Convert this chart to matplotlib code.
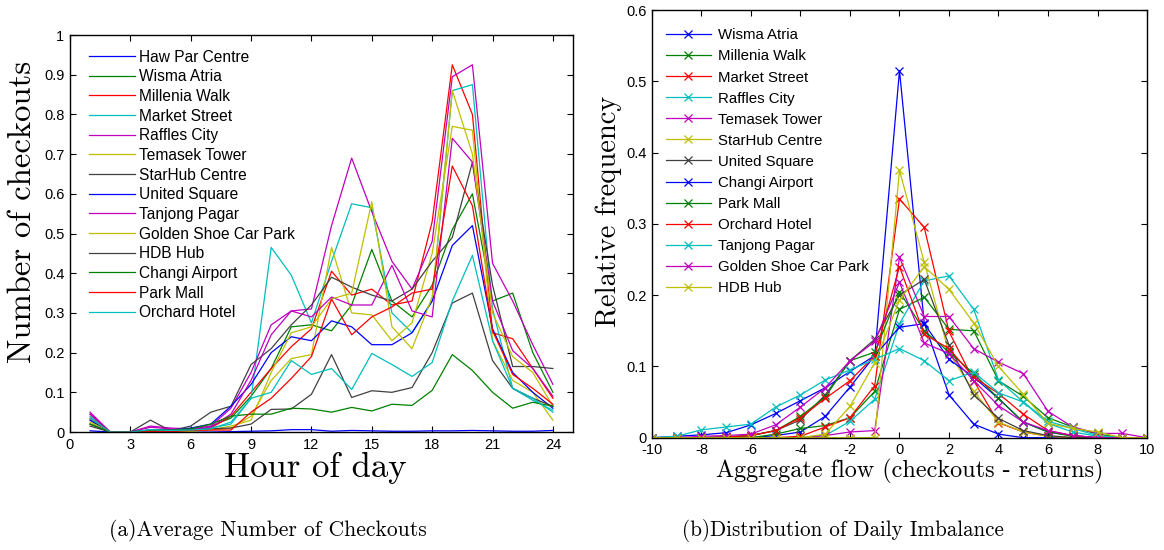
import matplotlib
matplotlib.use("Agg")
import matplotlib.pyplot as plt
import numpy as np

plt.rcParams['font.family'] = ['Liberation Sans', 'DejaVu Sans']
plt.rcParams['axes.unicode_minus'] = False

# ---------------- data: (a) average number of checkouts ----------------
hours = list(range(1, 25))
names_a = ["Haw Par Centre", "Wisma Atria", "Millenia Walk", "Market Street", "Raffles City",
           "Temasek Tower", "StarHub Centre", "United Square", "Tanjong Pagar",
           "Golden Shoe Car Park", "HDB Hub", "Changi Airport", "Park Mall", "Orchard Hotel"]
haw_par = [0.003, 0, 0, 0, 0, 0, 0, 0.001, 0.002, 0.003, 0.006, 0.006, 0.002, 0.004, 0.003, 0.002,
           0.002, 0.003, 0.003, 0.004, 0.003, 0.002, 0.002, 0.004]
wisma = [0.03, 0, 0, 0.005, 0.005, 0.008, 0.015, 0.035, 0.09, 0.16, 0.265, 0.27, 0.255, 0.32, 0.46,
         0.33, 0.29, 0.37, 0.51, 0.60, 0.33, 0.35, 0.20, 0.10]
millenia = [0.045, 0, 0, 0.005, 0.005, 0.005, 0.01, 0.04, 0.10, 0.16, 0.215, 0.26, 0.405, 0.345, 0.36,
            0.32, 0.33, 0.53, 0.925, 0.80, 0.25, 0.235, 0.16, 0.085]
market = [0.04, 0, 0, 0.005, 0.005, 0.005, 0.01, 0.02, 0.085, 0.465, 0.395, 0.275, 0.43, 0.575, 0.565,
          0.30, 0.25, 0.33, 0.86, 0.875, 0.31, 0.11, 0.08, 0.055]
raffles = [0.05, 0, 0, 0.015, 0.01, 0.008, 0.015, 0.06, 0.15, 0.27, 0.305, 0.31, 0.52, 0.69, 0.555,
           0.43, 0.36, 0.48, 0.895, 0.925, 0.425, 0.33, 0.22, 0.12]
temasek = [0.02, 0, 0, 0.002, 0.002, 0.002, 0.005, 0.01, 0.04, 0.13, 0.185, 0.195, 0.465, 0.30, 0.295,
           0.23, 0.275, 0.45, 0.77, 0.76, 0.23, 0.13, 0.10, 0.03]
starhub = [0.015, 0, 0, 0.03, 0.003, 0.015, 0.05, 0.065, 0.17, 0.21, 0.27, 0.32, 0.39, 0.365, 0.345,
           0.33, 0.36, 0.43, 0.49, 0.68, 0.37, 0.165, 0.165, 0.16]
united = [0.03, 0, 0, 0.005, 0.005, 0.01, 0.02, 0.065, 0.12, 0.20, 0.24, 0.23, 0.28, 0.265, 0.22,
          0.22, 0.25, 0.33, 0.47, 0.52, 0.26, 0.15, 0.10, 0.06]
tanjong = [0.045, 0, 0, 0.012, 0.008, 0.006, 0.012, 0.045, 0.13, 0.245, 0.305, 0.29, 0.34, 0.32, 0.32,
           0.42, 0.305, 0.29, 0.74, 0.68, 0.33, 0.205, 0.16, 0.09]
golden = [0.025, 0, 0, 0.003, 0.003, 0.003, 0.006, 0.015, 0.03, 0.15, 0.25, 0.265, 0.335, 0.35, 0.58,
          0.265, 0.21, 0.34, 0.86, 0.70, 0.30, 0.19, 0.15, 0.065]
hdb = [0.02, 0, 0, 0.004, 0.003, 0.005, 0.008, 0.01, 0.02, 0.057, 0.058, 0.095, 0.195, 0.087, 0.104,
       0.10, 0.112, 0.20, 0.325, 0.35, 0.18, 0.11, 0.085, 0.065]
changi = [0.02, 0, 0, 0.005, 0.005, 0.008, 0.02, 0.04, 0.045, 0.045, 0.06, 0.058, 0.05, 0.062, 0.053,
          0.07, 0.067, 0.105, 0.195, 0.155, 0.10, 0.06, 0.075, 0.065]
park = [0.035, 0, 0, 0.001, 0.001, 0.004, 0.005, 0.005, 0.05, 0.085, 0.135, 0.19, 0.335, 0.245, 0.29,
        0.315, 0.35, 0.36, 0.67, 0.57, 0.255, 0.145, 0.11, 0.07]
orchard = [0.035, 0, 0, 0.006, 0.004, 0.005, 0.008, 0.025, 0.085, 0.10, 0.18, 0.145, 0.16, 0.107, 0.198,
           0.17, 0.14, 0.175, 0.33, 0.445, 0.23, 0.11, 0.085, 0.05]
series_a = [haw_par, wisma, millenia, market, raffles, temasek, starhub, united, tanjong,
            golden, hdb, changi, park, orchard]

# ---------------- data: (b) distribution of daily imbalance ----------------
flow = list(range(-10, 11))
names_b = ["Wisma Atria", "Millenia Walk", "Market Street", "Raffles City", "Temasek Tower",
           "StarHub Centre", "United Square", "Changi Airport", "Park Mall", "Orchard Hotel",
           "Tanjong Pagar", "Golden Shoe Car Park", "HDB Hub"]
wisma_b = [0, 0, 0, 0, 0, 0.003, 0.008, 0.03, 0.071, 0.115, 0.515, 0.161, 0.06, 0.019, 0.005, 0, 0, 0, 0, 0, 0]
millenia_b = [0, 0, 0, 0, 0, 0.005, 0.013, 0.017, 0.028, 0.065, 0.18, 0.197, 0.152, 0.15, 0.08, 0.058, 0.028,
              0.015, 0.005, 0, 0]
market_b = [0, 0, 0, 0, 0, 0, 0.002, 0.015, 0.028, 0.073, 0.335, 0.295, 0.149, 0.08, 0.021, 0.008, 0.002,
            0, 0, 0, 0]
raffles_b = [0, 0, 0, 0, 0, 0, 0, 0.003, 0.023, 0.054, 0.16, 0.22, 0.227, 0.18, 0.081, 0.05, 0.02, 0.008,
             0.002, 0, 0]
temasek_b = [0, 0, 0, 0, 0, 0, 0, 0.003, 0.008, 0.01, 0.253, 0.17, 0.17, 0.125, 0.106, 0.09, 0.037, 0.015,
             0.006, 0.006, 0]
starhub_b = [0, 0, 0, 0, 0, 0, 0, 0, 0, 0, 0.375, 0.246, 0.119, 0.065, 0.022, 0.008, 0.002, 0, 0, 0, 0]
united_b = [0, 0, 0, 0.001, 0.003, 0.01, 0.025, 0.06, 0.108, 0.138, 0.20, 0.222, 0.13, 0.06, 0.027, 0.01,
            0.003, 0, 0, 0, 0]
changi_b = [0, 0.002, 0.004, 0.007, 0.018, 0.034, 0.052, 0.07, 0.093, 0.115, 0.155, 0.16, 0.11, 0.085,
            0.055, 0.022, 0.008, 0.003, 0, 0, 0]
park_b = [0, 0, 0, 0.001, 0.003, 0.01, 0.03, 0.057, 0.108, 0.12, 0.205, 0.15, 0.12, 0.09, 0.055, 0.022,
          0.008, 0.002, 0, 0, 0]
orchard_b = [0, 0, 0, 0.001, 0.003, 0.01, 0.028, 0.055, 0.08, 0.115, 0.24, 0.145, 0.125, 0.085, 0.062,
             0.033, 0.01, 0.003, 0, 0, 0]
tanjong_b = [0, 0.002, 0.011, 0.015, 0.019, 0.043, 0.06, 0.081, 0.095, 0.11, 0.125, 0.108, 0.08, 0.092,
             0.063, 0.05, 0.023, 0.013, 0.003, 0, 0]
golden_b = [0, 0, 0.002, 0.003, 0.005, 0.018, 0.043, 0.07, 0.108, 0.135, 0.218, 0.133, 0.118, 0.08, 0.045,
            0.022, 0.01, 0.003, 0, 0, 0]
hdb_b = [0, 0, 0, 0, 0, 0, 0, 0.005, 0.044, 0.105, 0.193, 0.24, 0.208, 0.161, 0.10, 0.061, 0.02, 0.013,
         0.008, 0, 0]
series_b = [wisma_b, millenia_b, market_b, raffles_b, temasek_b, starhub_b, united_b, changi_b,
            park_b, orchard_b, tanjong_b, golden_b, hdb_b]

# MATLAB-like colours
B, G, R, C, M, Y, K = ((0, 0, 1), (0, 0.5, 0), (1, 0, 0), (0, 0.75, 0.75),
                       (0.75, 0, 0.75), (0.75, 0.75, 0), (0.25, 0.25, 0.25))
colors_a = [B, G, R, C, M, Y, K, B, M, Y, K, G, R, C]
colors_b = [B, G, R, C, M, Y, K, B, G, R, C, M, Y]

serif = 'cmr10'

fig = plt.figure(figsize=(11.64, 5.5), dpi=100)

def style(ax):
    ax.tick_params(direction='in', top=True, right=True, labelsize=10.5, length=4, width=0.8,
                   pad=4)
    for s in ax.spines.values():
        s.set_linewidth(1.0)

# ---- left panel ----
ax1 = fig.add_axes([0.0601, 0.2145, 0.4322, 0.7218])
for ys, c, n in zip(series_a, colors_a, names_a):
    ax1.plot(hours, ys, color=c, lw=0.9, label=n)
ax1.set_xlim(0, 25)
ax1.set_ylim(0, 1)
ax1.set_xticks(range(0, 25, 3))
ax1.set_yticks(np.arange(0, 1.01, 0.1))
ax1.set_yticklabels(['0', '0.1', '0.2', '0.3', '0.4', '0.5', '0.6', '0.7', '0.8', '0.9', '1'])
style(ax1)
ax1.set_xlabel("Hour of day", fontfamily=serif, fontsize=25, labelpad=0)
ax1.xaxis.label.set_x(0.487)
ax1.set_ylabel("Number of checkouts", fontfamily=serif, fontsize=23.5, labelpad=5)
ax1.yaxis.label.set_y(0.555)
ax1.legend(loc='upper left', bbox_to_anchor=(0.02, 0.987), frameon=False, fontsize=11.2,
           handlelength=2.95, handletextpad=0.25, labelspacing=0.30, borderaxespad=0.2)

# ---- right panel ----
ax2 = fig.add_axes([0.5601, 0.2042, 0.4253, 0.7776])
for ys, c, n in zip(series_b, colors_b, names_b):
    ax2.plot(flow, ys, color=c, lw=0.9, marker='x', markersize=5.5, markeredgewidth=0.9, label=n)
ax2.set_xlim(-10, 10)
ax2.set_ylim(0, 0.6)
ax2.set_xticks(range(-10, 11, 2))
ax2.set_yticks(np.arange(0, 0.61, 0.1))
ax2.set_yticklabels(['0', '0.1', '0.2', '0.3', '0.4', '0.5', '0.6'])
style(ax2)
ax2.set_xlabel("Aggregate flow (checkouts - returns)", fontfamily=serif, fontsize=17.4, labelpad=1)
ax2.xaxis.label.set_x(0.52)
ax2.set_ylabel("Relative frequency", fontfamily=serif, fontsize=20.5, labelpad=3)
ax2.yaxis.label.set_y(0.53)
ax2.legend(loc='upper left', bbox_to_anchor=(0.01, 0.978), frameon=False, fontsize=10.8,
           handlelength=3.0, handletextpad=0.45, labelspacing=0.47, borderaxespad=0.2)

fig.text(268 / 1164, 1 - 530 / 550, "(a)Average Number of Checkouts", fontfamily=serif,
         fontsize=15.5, ha='center', va='center')
fig.text(843 / 1164, 1 - 530 / 550, "(b)Distribution of Daily Imbalance", fontfamily=serif,
         fontsize=15.2, ha='center', va='center')

fig.savefig("out.png", dpi=100)
